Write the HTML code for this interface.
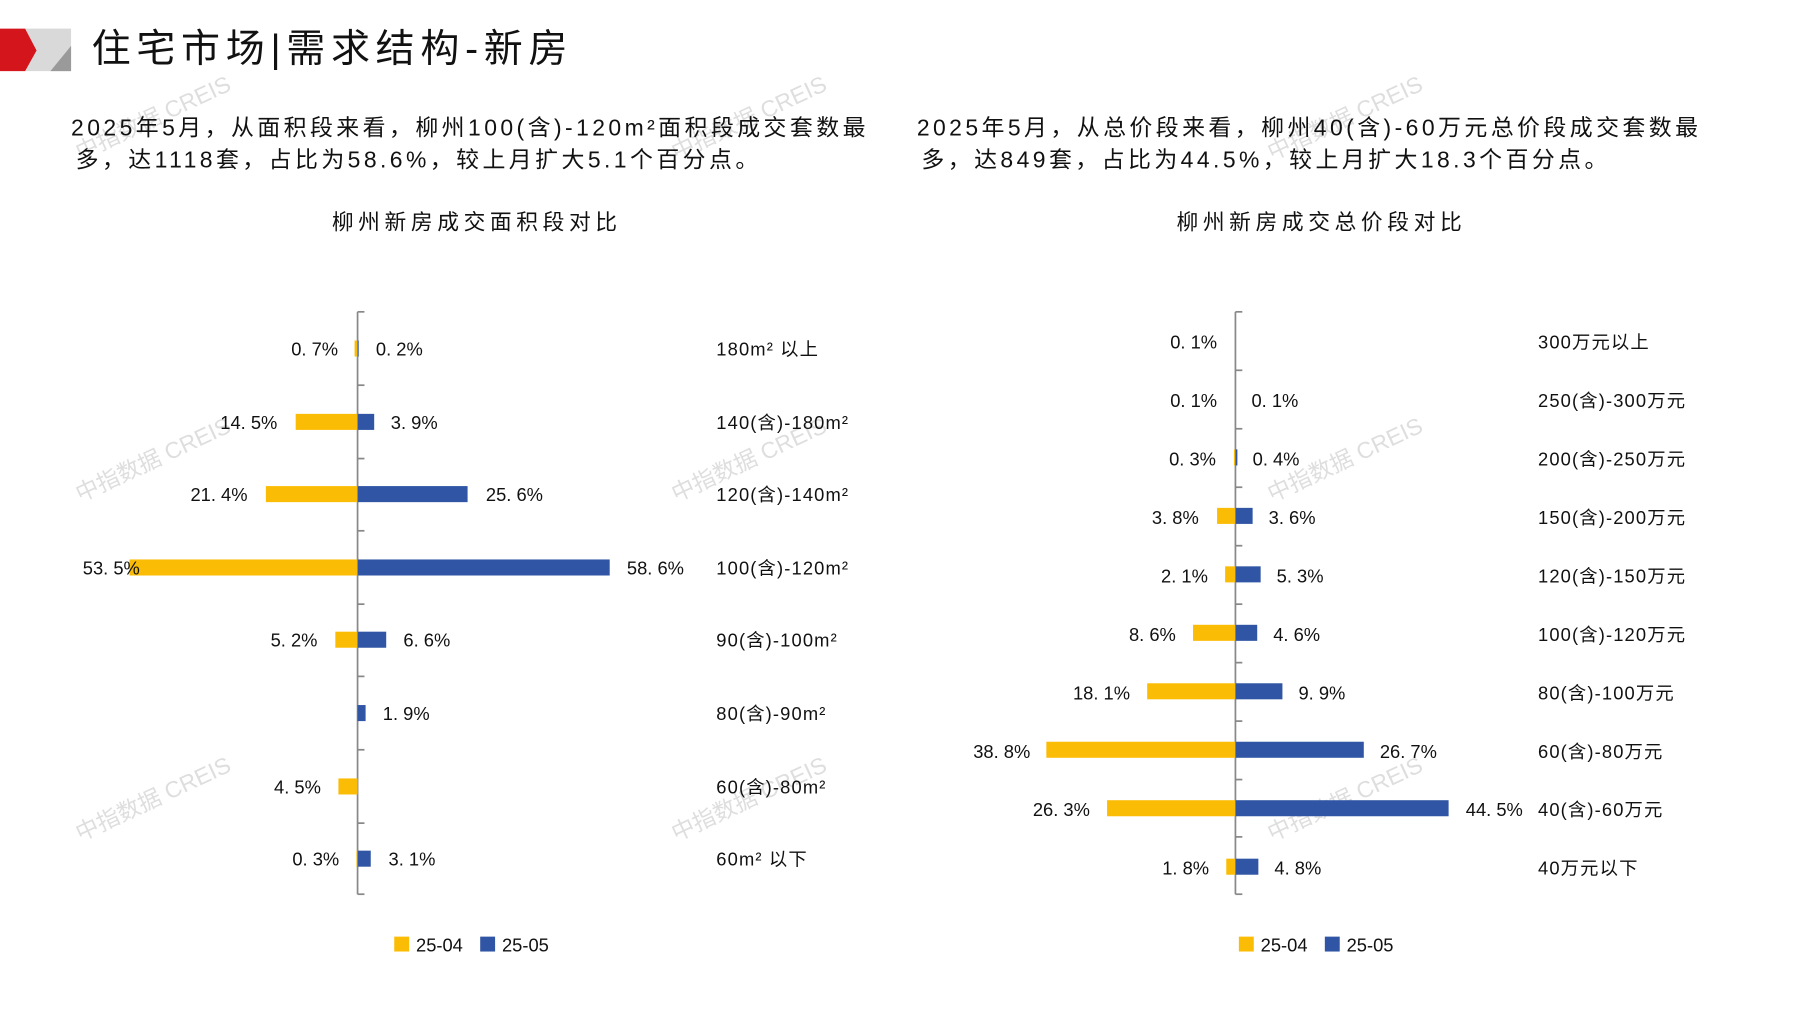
<!DOCTYPE html>
<html><head><meta charset="utf-8"><style>
html,body{margin:0;padding:0;background:#fff}
svg{display:block}
text{font-family:"Liberation Sans","Noto Sans CJK SC",sans-serif;fill:#111}
.l{font-size:16px}
.wm text{font-size:20px;fill:#dedede}
</style></head><body>
<svg width="1797" height="1010" viewBox="0 0 1568 881" preserveAspectRatio="none" xmlns="http://www.w3.org/2000/svg">
<polygon points="0,25 22,25 32,44 22,62 0,62" fill="#d4161c"/>
<polygon points="22,25 62,25 62,62 22,62 32,44" fill="#d9d9d9"/>
<polygon points="62,40 62,62 44,62" fill="#9a9a9a"/>
<text x="80" y="54" style="font-size:34px;letter-spacing:5px" font-family="Noto Serif CJK SC">住宅市场|需求结构-新房</text>

<g class="wm">
<text x="70" y="140" transform="rotate(-25 70 140)">中指数据 CREIS</text>
<text x="590" y="140" transform="rotate(-25 590 140)">中指数据 CREIS</text>
<text x="1110" y="140" transform="rotate(-25 1110 140)">中指数据 CREIS</text>
<text x="70" y="438" transform="rotate(-25 70 438)">中指数据 CREIS</text>
<text x="590" y="438" transform="rotate(-25 590 438)">中指数据 CREIS</text>
<text x="1110" y="438" transform="rotate(-25 1110 438)">中指数据 CREIS</text>
<text x="70" y="734" transform="rotate(-25 70 734)">中指数据 CREIS</text>
<text x="590" y="734" transform="rotate(-25 590 734)">中指数据 CREIS</text>
<text x="1110" y="734" transform="rotate(-25 1110 734)">中指数据 CREIS</text>
</g>

<g style="font-size:20px;letter-spacing:3px">
<text x="62" y="118">2025年5月，从面积段来看，柳州100(含)-120m²面积段成交套数最</text>
<text x="66" y="146">多，达1118套，占比为58.6%，较上月扩大5.1个百分点。</text>
<text x="800" y="118">2025年5月，从总价段来看，柳州40(含)-60万元总价段成交套数最</text>
<text x="804" y="146">多，达849套，占比为44.5%，较上月扩大18.3个百分点。</text>
</g>
<text x="416" y="200" text-anchor="middle" style="font-size:19px;letter-spacing:4px">柳州新房成交面积段对比</text>
<text x="1153" y="200" text-anchor="middle" style="font-size:19px;letter-spacing:4px">柳州新房成交总价段对比</text>

<!-- left chart -->
<g>
<line x1="312" y1="272" x2="312" y2="780" stroke="#888" stroke-width="1.5"/>
<g stroke="#888" stroke-width="1.5">
<line x1="312" y1="272" x2="318" y2="272"/><line x1="312" y1="336" x2="318" y2="336"/><line x1="312" y1="400" x2="318" y2="400"/><line x1="312" y1="463" x2="318" y2="463"/><line x1="312" y1="527" x2="318" y2="527"/><line x1="312" y1="590" x2="318" y2="590"/><line x1="312" y1="654" x2="318" y2="654"/><line x1="312" y1="718" x2="318" y2="718"/><line x1="312" y1="780" x2="318" y2="780"/>
</g>
<g fill="#fbbc05">
<rect x="309.4" y="297" width="2.6" height="14"/>
<rect x="258" y="361" width="54" height="14"/>
<rect x="232" y="424" width="80" height="14"/>
<rect x="113" y="488" width="199" height="14"/>
<rect x="292.6" y="551" width="19.4" height="14"/>
<rect x="295.3" y="679" width="16.7" height="14"/>
<rect x="311" y="742" width="1" height="14"/>
</g>
<g fill="#2f55a4">
<rect x="312" y="297" width="1" height="14"/>
<rect x="312" y="361" width="14.5" height="14"/>
<rect x="312" y="424" width="96" height="14"/>
<rect x="312" y="488" width="220" height="14"/>
<rect x="312" y="551" width="25" height="14"/>
<rect x="312" y="615" width="7" height="14"/>
<rect x="312" y="742" width="11.5" height="14"/>
</g>
<g class="l" text-anchor="end">
<text x="295" y="310">0. 7%</text><text x="242" y="374">14. 5%</text><text x="216" y="437">21. 4%</text><text x="122" y="501">53. 5%</text><text x="277" y="564">5. 2%</text><text x="280" y="692">4. 5%</text><text x="296" y="755">0. 3%</text>
</g>
<g class="l">
<text x="328" y="310">0. 2%</text><text x="341" y="374">3. 9%</text><text x="424" y="437">25. 6%</text><text x="547" y="501">58. 6%</text><text x="352" y="564">6. 6%</text><text x="334" y="628">1. 9%</text><text x="339" y="755">3. 1%</text>
</g>
<g class="l" style="letter-spacing:1px">
<text x="625" y="310">180m² 以上</text><text x="625" y="374">140(含)-180m²</text><text x="625" y="437">120(含)-140m²</text><text x="625" y="501">100(含)-120m²</text><text x="625" y="564">90(含)-100m²</text><text x="625" y="628">80(含)-90m²</text><text x="625" y="692">60(含)-80m²</text><text x="625" y="755">60m² 以下</text>
</g>
<rect x="344" y="817" width="13" height="13" fill="#fbbc05"/><text x="363" y="830" class="l">25-04</text>
<rect x="419" y="817" width="13" height="13" fill="#2f55a4"/><text x="438" y="830" class="l">25-05</text>
</g>

<!-- right chart -->
<g>
<line x1="1078" y1="272" x2="1078" y2="780" stroke="#888" stroke-width="1.5"/>
<g stroke="#888" stroke-width="1.5">
<line x1="1078" y1="272" x2="1084" y2="272"/><line x1="1078" y1="323" x2="1084" y2="323"/><line x1="1078" y1="374" x2="1084" y2="374"/><line x1="1078" y1="425" x2="1084" y2="425"/><line x1="1078" y1="476" x2="1084" y2="476"/><line x1="1078" y1="527" x2="1084" y2="527"/><line x1="1078" y1="578" x2="1084" y2="578"/><line x1="1078" y1="629" x2="1084" y2="629"/><line x1="1078" y1="680" x2="1084" y2="680"/><line x1="1078" y1="730" x2="1084" y2="730"/><line x1="1078" y1="780" x2="1084" y2="780"/>
</g>
<g fill="#fbbc05">
<rect x="1076.7" y="392" width="1.3" height="14"/>
<rect x="1062" y="443" width="16" height="14"/>
<rect x="1069" y="494" width="9" height="14"/>
<rect x="1041" y="545" width="37" height="14"/>
<rect x="1001" y="596" width="77" height="14"/>
<rect x="913" y="647" width="165" height="14"/>
<rect x="966" y="698" width="112" height="14"/>
<rect x="1070" y="749" width="8" height="14"/>
</g>
<g fill="#2f55a4">
<rect x="1078" y="392" width="1.7" height="14"/>
<rect x="1078" y="443" width="15" height="14"/>
<rect x="1078" y="494" width="22" height="14"/>
<rect x="1078" y="545" width="19" height="14"/>
<rect x="1078" y="596" width="41" height="14"/>
<rect x="1078" y="647" width="112" height="14"/>
<rect x="1078" y="698" width="186" height="14"/>
<rect x="1078" y="749" width="20" height="14"/>
</g>
<g class="l" text-anchor="end">
<text x="1062" y="304">0. 1%</text><text x="1062" y="355">0. 1%</text><text x="1061" y="406">0. 3%</text><text x="1046" y="457">3. 8%</text><text x="1054" y="508">2. 1%</text><text x="1026" y="559">8. 6%</text><text x="986" y="610">18. 1%</text><text x="899" y="661">38. 8%</text><text x="951" y="712">26. 3%</text><text x="1055" y="763">1. 8%</text>
</g>
<g class="l">
<text x="1092" y="355">0. 1%</text><text x="1093" y="406">0. 4%</text><text x="1107" y="457">3. 6%</text><text x="1114" y="508">5. 3%</text><text x="1111" y="559">4. 6%</text><text x="1133" y="610">9. 9%</text><text x="1204" y="661">26. 7%</text><text x="1279" y="712">44. 5%</text><text x="1112" y="763">4. 8%</text>
</g>
<g class="l" style="letter-spacing:1px">
<text x="1342" y="304">300万元以上</text><text x="1342" y="355">250(含)-300万元</text><text x="1342" y="406">200(含)-250万元</text><text x="1342" y="457">150(含)-200万元</text><text x="1342" y="508">120(含)-150万元</text><text x="1342" y="559">100(含)-120万元</text><text x="1342" y="610">80(含)-100万元</text><text x="1342" y="661">60(含)-80万元</text><text x="1342" y="712">40(含)-60万元</text><text x="1342" y="763">40万元以下</text>
</g>
<rect x="1081" y="817" width="13" height="13" fill="#fbbc05"/><text x="1100" y="830" class="l">25-04</text>
<rect x="1156" y="817" width="13" height="13" fill="#2f55a4"/><text x="1175" y="830" class="l">25-05</text>
</g>
</svg>
</body></html>
